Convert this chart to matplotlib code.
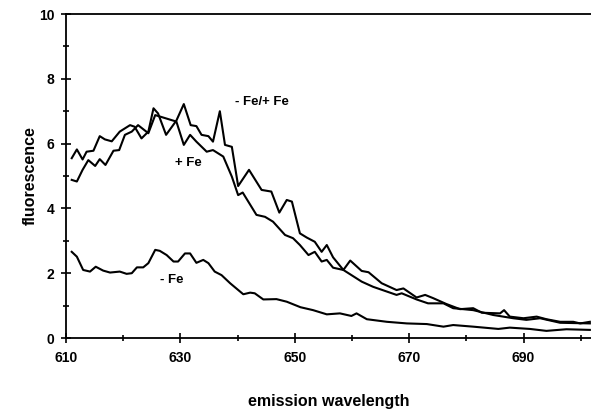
import matplotlib
matplotlib.use("Agg")
import matplotlib.pyplot as plt
from matplotlib.ticker import MultipleLocator

# Upper curve ("- Fe/+ Fe")
ratio_x = [611, 611.9, 612.9, 613.6, 614.8, 615.9, 616.8, 618, 619.4, 621.2, 622, 623.2, 624.4,
           625.3, 626.1, 627.5, 629.3, 630.6, 631.8, 632.8, 633.7, 634.9, 635.7, 636.9, 637.8,
           639, 640.1, 642, 644.2, 645.9, 647.3, 648.6, 649.5, 650.9, 652.1, 653.5, 654.7,
           655.6, 656.7, 658.5, 659.7, 661.7, 662.9, 665.2, 667.8, 669, 671.3, 672.8, 674.2,
           676.5, 678.9, 681.2, 682.7, 685.9, 686.6, 687.6, 690, 692.3, 694, 696.4, 698.7,
           699.9, 701.6]
ratio_y = [5.55, 5.82, 5.51, 5.75, 5.78, 6.23, 6.13, 6.07, 6.37, 6.57, 6.52, 6.16, 6.37,
           7.09, 6.93, 6.27, 6.71, 7.22, 6.57, 6.54, 6.27, 6.23, 6.06, 7.0, 5.96,
           5.9, 4.69, 5.19, 4.57, 4.52, 3.87, 4.26, 4.21, 3.23, 3.1, 2.97, 2.66,
           2.87, 2.49, 2.10, 2.39, 2.07, 2.03, 1.69, 1.48, 1.53, 1.25, 1.33, 1.23,
           1.05, 0.89, 0.92, 0.78, 0.76, 0.86, 0.66, 0.61, 0.66, 0.58, 0.50, 0.50,
           0.45, 0.50]

# Middle curve ("+ Fe")
plus_x = [611, 611.9, 612.9, 613.9, 615.1, 615.9, 616.9, 618.3, 619.3, 620.3, 621.5, 622.6,
          624.4, 625.6, 629.3, 630.6, 631.7, 632.8, 634.6, 635.7, 637.5, 639, 640.1, 640.9,
          643.3, 644.8, 646.2, 648.3, 649.7, 650.9, 652.4, 653.5, 654.7, 655.6, 656.7,
          658.5, 661.7, 663.7, 667.8, 668.7, 671.3, 673.3, 676, 677.7, 681.2, 684.7,
          688.2, 690.5, 692.9, 696.4, 701.6]
plus_y = [4.88, 4.83, 5.19, 5.49, 5.31, 5.52, 5.34, 5.78, 5.80, 6.27, 6.37, 6.57,
          6.32, 6.88, 6.68, 5.96, 6.27, 6.06, 5.75, 5.80, 5.60, 4.98, 4.41, 4.49,
          3.80, 3.74, 3.59, 3.18, 3.08, 2.87, 2.56, 2.66, 2.36, 2.41, 2.17,
          2.10, 1.74, 1.58, 1.33, 1.38, 1.19, 1.07, 1.07, 0.92, 0.86, 0.71,
          0.61, 0.56, 0.61, 0.47, 0.45]

# Lower curve ("- Fe")
minus_x = [611, 611.9, 613, 614.2, 615.2, 616.5, 617.7, 619.4, 620.6, 621.5, 622.4, 623.5,
           624.4, 625.6, 626.4, 627.6, 628.8, 629.6, 630.8, 631.7, 632.8, 634, 634.9, 636,
           637.2, 638.7, 641, 642.2, 643, 644.5, 646.8, 648.6, 651, 653.2, 655.6, 657.9,
           659.9, 660.8, 662.6, 666.1, 669.6, 673.1, 676, 677.7, 681.2, 685.6, 687.6,
           691.1, 694, 697.5, 701.6]
minus_y = [2.66, 2.51, 2.10, 2.05, 2.20, 2.08, 2.02, 2.05, 1.98, 2.0, 2.18, 2.18,
           2.31, 2.72, 2.69, 2.56, 2.36, 2.36, 2.61, 2.61, 2.32, 2.41, 2.31, 2.05,
           1.94, 1.69, 1.35, 1.40, 1.38, 1.19, 1.20, 1.12, 0.95, 0.86, 0.73, 0.76,
           0.68, 0.76, 0.58, 0.50, 0.45, 0.43, 0.35, 0.40, 0.35, 0.28, 0.32,
           0.28, 0.22, 0.27, 0.25]

labels = ["- Fe/+ Fe", "+ Fe", "- Fe"]
label_pos = [(644.2, 7.29), (631.4, 5.39), (628.5, 1.79)]
x_ticks = [610, 630, 650, 670, 690]
y_ticks = [0, 2, 4, 6, 8, 10]

plt.rcParams['font.family'] = ['Liberation Sans', 'DejaVu Sans']
fig = plt.figure(figsize=(5.91, 4.09), dpi=100)
ax = fig.add_axes([66/591, 1-338/409, 1-66/591, (338-14)/409])

for xs, ys in [(ratio_x, ratio_y), (plus_x, plus_y), (minus_x, minus_y)]:
    ax.plot(xs, ys, color='black', lw=1.5)

for t, (x, y) in zip(labels, label_pos):
    ax.text(x, y, t, ha='center', va='center', fontsize=9.5, fontweight='bold')

ax.set_xlim(610, 701.8)
ax.set_ylim(0, 10)
ax.set_xticks(x_ticks)
ax.set_yticks(y_ticks)
ax.xaxis.set_minor_locator(MultipleLocator(10))
ax.yaxis.set_minor_locator(MultipleLocator(1))
ax.tick_params(which='both', direction='inout', labelsize=10, width=1.2)
ax.tick_params(which='major', length=7)
ax.tick_params(which='minor', length=5)
ax.tick_params(axis='x', pad=6)
ax.tick_params(axis='y', pad=5)
for lab in ax.get_xticklabels() + ax.get_yticklabels():
    lab.set_fontweight('bold')
ax.spines['right'].set_visible(False)
for s in ['left', 'bottom', 'top']:
    ax.spines[s].set_linewidth(1.3)

ax.set_xlabel('emission wavelength', fontsize=11.5, fontweight='bold', labelpad=21)
ax.set_ylabel('fluorescence', fontsize=11.5, fontweight='bold', labelpad=1)

fig.savefig('out.png', dpi=100)
